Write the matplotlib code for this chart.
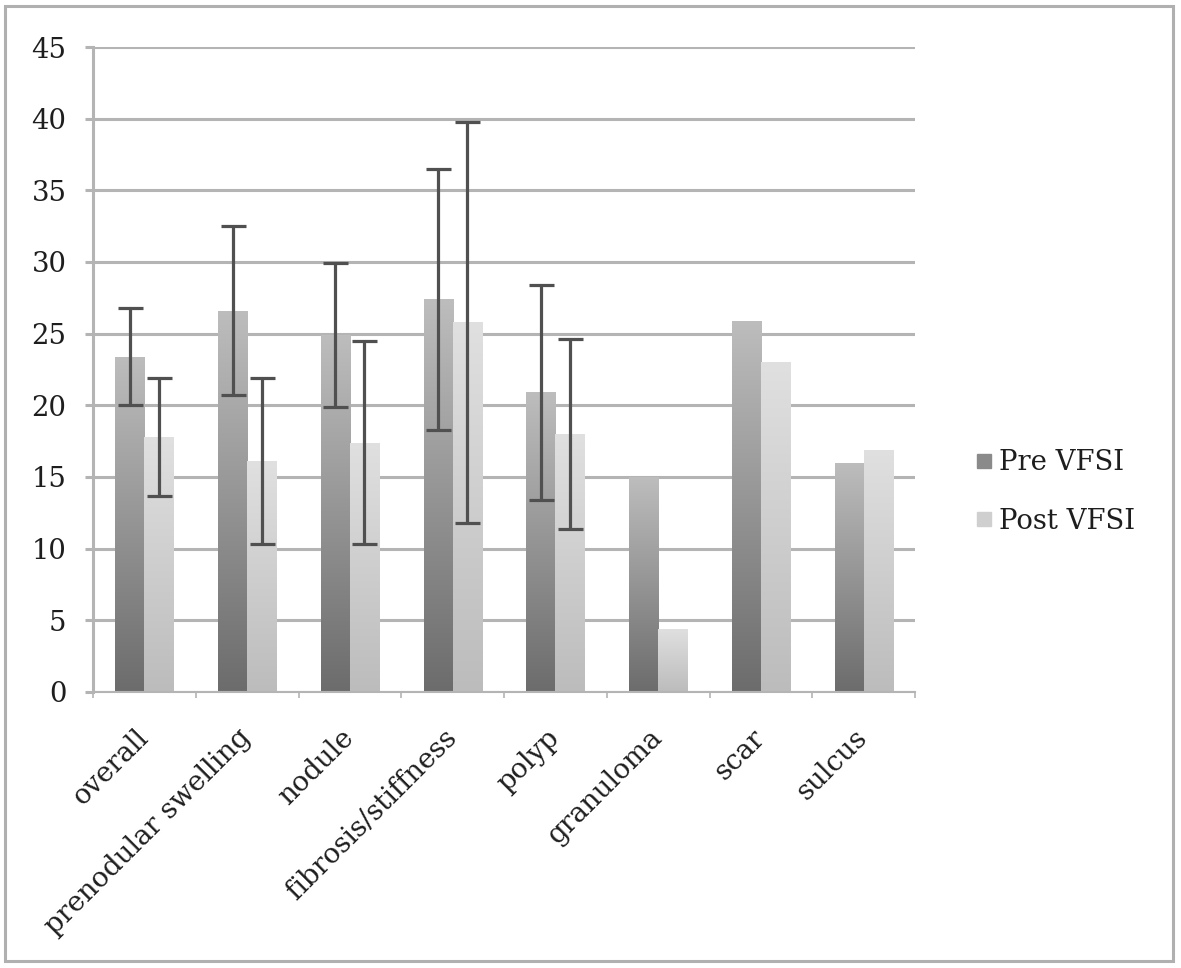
import numpy as np
import matplotlib
matplotlib.use("Agg")
import matplotlib.pyplot as plt
from matplotlib.colors import LinearSegmentedColormap
from matplotlib.lines import Line2D
from matplotlib.patches import Rectangle

categories = ["overall", "prenodular swelling", "nodule", "fibrosis/stiffness",
              "polyp", "granuloma", "scar", "sulcus"]
pre_vals = [23.4, 26.6, 24.9, 27.4, 20.9, 15.0, 25.9, 16.0]
post_vals = [17.8, 16.1, 17.4, 25.8, 18.0, 4.4, 23.0, 16.9]
pre_err = [3.4, 5.9, 5.0, 9.1, 7.5]
post_err = [4.1, 5.8, 7.1, 14.0, 6.6]
series_names = ["Pre VFSI", "Post VFSI"]
yticks = [0, 5, 10, 15, 20, 25, 30, 35, 40, 45]

plt.rcParams['font.family'] = ['DejaVu Serif']
FS = 19.8

fig = plt.figure(figsize=(11.81, 9.68), dpi=100)
ax = fig.add_axes([93/1181, 1-692/968, (915-93)/1181, (692-47)/968])

x = np.arange(len(categories))
bw = 0.283
grid_c = "#b4b4b4"
pre_cmap = LinearSegmentedColormap.from_list("pre", ["#6c6c6c", "#bdbdbd"])
post_cmap = LinearSegmentedColormap.from_list("post", ["#bcbcbc", "#e0e0e0"])

pre_bars = ax.bar(x - bw/2, pre_vals, bw, color="#9a9a9a", zorder=2, linewidth=0)
post_bars = ax.bar(x + bw/2, post_vals, bw, color="#d0d0d0", zorder=2, linewidth=0)

grad = np.linspace(0, 1, 256).reshape(-1, 1)
for bars, cmap in ((pre_bars, pre_cmap), (post_bars, post_cmap)):
    for r in bars:
        bx, by, w, h = r.get_x(), r.get_y(), r.get_width(), r.get_height()
        im = ax.imshow(grad, cmap=cmap, origin="lower", aspect="auto",
                       extent=[bx, bx + w, by, by + h], zorder=2.1,
                       interpolation="bilinear")
        im.set_clip_path(r)

n_err = len(pre_err)
ax.errorbar(x[:n_err] - bw/2, pre_vals[:n_err], yerr=pre_err, fmt="none",
            ecolor="#505050", elinewidth=2.3, capsize=9, capthick=2.3, zorder=3)
ax.errorbar(x[:n_err] + bw/2, post_vals[:n_err], yerr=post_err, fmt="none",
            ecolor="#505050", elinewidth=2.3, capsize=9, capthick=2.3, zorder=3)

ax.set_xlim(-0.5, len(categories) - 0.5)
ax.set_ylim(0, 45)
ax.set_yticks(yticks)
ax.set_yticklabels([str(v) for v in yticks], fontsize=FS, color="#1e1e1e")
ax.yaxis.grid(True, color=grid_c, linewidth=2.2)
ax.set_axisbelow(True)

ax.set_xticks(x)
ax.set_xticklabels(categories, rotation=45, ha="right", va="center",
                   rotation_mode="anchor", fontsize=FS, color="#1e1e1e")
ax.set_xticks(np.arange(-0.5, len(categories)), minor=True)
ax.tick_params(axis="x", which="major", length=0, pad=30)
ax.tick_params(axis="x", which="minor", length=4, width=1.2, color=grid_c, direction="out")
ax.tick_params(axis="y", length=6, width=2.2, color=grid_c, pad=13)

for s in ("top", "right"):
    ax.spines[s].set_visible(False)
ax.spines["left"].set_color(grid_c)
ax.spines["left"].set_linewidth(2.2)
ax.spines["bottom"].set_color(grid_c)
ax.spines["bottom"].set_linewidth(1.5)

handles = [Line2D([], [], marker="s", linestyle="none", markersize=10,
                  markerfacecolor=c, markeredgecolor=c) for c in ("#8a8a8a", "#cfcfcf")]
ax.legend(handles, series_names, loc="center left", bbox_to_anchor=(1.04, 0.31),
          frameon=False, fontsize=FS, handletextpad=0.15, labelspacing=1.15,
          handlelength=0.8, labelcolor="#1e1e1e")

fig.patches.append(Rectangle((5/1181, 1-961/968), (1173-5)/1181, (961-6)/968,
                             transform=fig.transFigure, fill=False,
                             edgecolor="#b0b0b0", linewidth=2.2, zorder=0))

fig.savefig("out.png", dpi=100)
